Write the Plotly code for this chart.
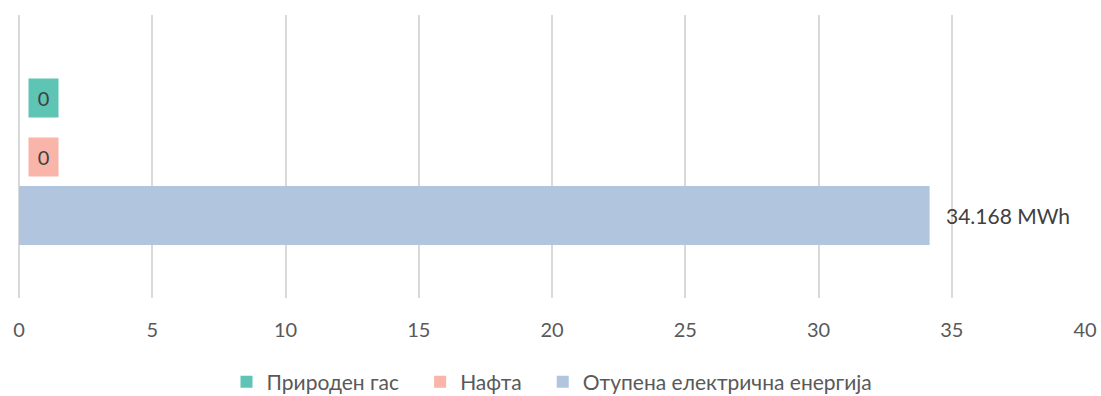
import plotly.graph_objects as go

category = ["Извор"]
series_names = ["Природен гас", "Нафта", "Отупена електрична енергија"]
series_values = [0, 0, 34.168]
series_labels = ["0", "0", "34.168 MWh"]
series_colors = ["#5EC4B4", "#F9B5AA", "#B2C5DE"]
x_ticks = [0, 5, 10, 15, 20, 25, 30, 35, 40]

W, H = 1101, 396
margin = dict(l=19, r=16, t=15, b=98, autoexpand=False)
bargap = 0.375
plot_h = H - margin["t"] - margin["b"]
slot = plot_h * (1 - bargap) / len(series_names)
FONT = "Lato, Liberation Sans, Arial"
GAP = "\u00a0" * 3  # extra room between legend entries

fig = go.Figure()
n = len(series_names)
for i, (name, val, col) in enumerate(zip(series_names, series_values, series_colors)):
    fig.add_trace(go.Bar(
        y=category, x=[val], name=name + (GAP if i < n - 1 else ""),
        orientation="h",
        marker=dict(color=col, line=dict(width=0)),
        hovertemplate=name + ": %{x}<extra></extra>",
    ))

# value labels; zero-valued bars get a filled box in the series colour
for i, (val, lab, col) in enumerate(zip(series_values, series_labels, series_colors)):
    shift = ((n - 1) / 2 - i) * slot
    if val == 0:
        fig.add_annotation(
            x=val, y=category[0], text=lab, showarrow=False,
            xanchor="left", xshift=9, yshift=shift,
            bgcolor=col, width=27, height=36, borderpad=1,
            font=dict(family=FONT, size=20, color="#404040"),
        )
    else:
        fig.add_annotation(
            x=val, y=category[0], text=lab, showarrow=False,
            xanchor="left", xshift=14, yshift=shift,
            font=dict(family=FONT, size=21, color="#404040"),
        )

fig.update_layout(
    width=W, height=H, margin=margin,
    barmode="group", bargap=bargap, bargroupgap=0,
    plot_bgcolor="white", paper_bgcolor="white",
    font=dict(family=FONT, size=20, color="#595959"),
    xaxis=dict(
        range=[0, 40], tickvals=x_ticks, showgrid=True, gridcolor="#D9D9D9",
        gridwidth=1.5, zeroline=True, zerolinecolor="#D9D9D9", zerolinewidth=1.5,
        showline=False, ticks="", ticklabelstandoff=18, automargin=False,
        tickfont=dict(family=FONT, size=20, color="#595959"), fixedrange=True,
    ),
    yaxis=dict(
        autorange="reversed", showticklabels=False, showgrid=False,
        zeroline=False, showline=False, ticks="", fixedrange=True,
        automargin=False,
    ),
    legend=dict(
        orientation="h", x=0.5, xanchor="center", y=-0.297, yanchor="middle",
        font=dict(family=FONT, size=21, color="#595959"), itemwidth=30,
        traceorder="normal",
    ),
    showlegend=True,
)

fig.write_html("out.html")
